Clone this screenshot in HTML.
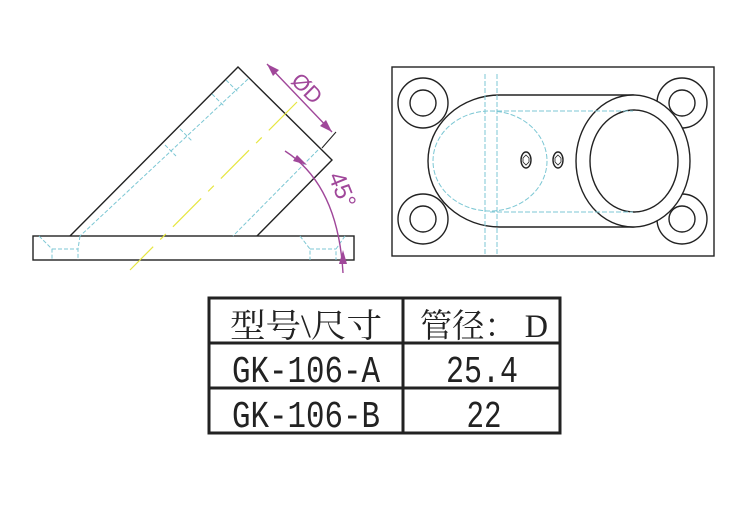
<!DOCTYPE html>
<html><head><meta charset="utf-8"><style>html,body{margin:0;padding:0;background:#fff}</style></head><body>
<svg width="750" height="500" viewBox="0 0 750 500" xmlns="http://www.w3.org/2000/svg">
<rect width="750" height="500" fill="#fff"/>
<!-- left view -->
<g fill="none" stroke="#222" stroke-width="1.4">
<rect x="33" y="236" width="321" height="24"/>
<polyline points="70,236 238,67 332,160 257,236"/>
</g>
<g fill="none" stroke="#7cc7d4" stroke-width="1" stroke-dasharray="4,2">
<line x1="248" y1="79" x2="80" y2="236"/>
<line x1="318" y1="150" x2="233" y2="236"/>
<polyline points="39,236 52,249 52,260"/><polyline points="80,236 78,249 78,260"/><line x1="52" y1="249" x2="78" y2="249"/>
<polyline points="300,236 310,249 310,260"/><polyline points="345,236 336,249 336,260"/><line x1="310" y1="249" x2="336" y2="249"/>
<line x1="226" y1="80" x2="238" y2="92"/><line x1="212" y1="94" x2="224" y2="106"/>
<line x1="180" y1="129" x2="192" y2="141"/><line x1="165" y1="145" x2="176" y2="156"/>
</g>
<line x1="297" y1="102" x2="130" y2="270" stroke="#e6e640" stroke-width="1.2" stroke-dasharray="40,10,8,10"/>
<g stroke="#a0479a" fill="#a0479a" stroke-width="1.4">
<line x1="267" y1="64" x2="332" y2="132"/>
<polygon points="267,64 279,70 273,76" stroke="none"/>
<polygon points="332,132 320,126 326,120" stroke="none"/>
<line x1="336" y1="132" x2="322" y2="148" stroke="#222" stroke-width="1"/>
<path d="M285,151 Q338,185 343,273" fill="none"/>
<polygon points="307,165 297,155 293,161" stroke="none"/>
<polygon points="343,250 339,264 347,264" stroke="none"/>
</g>
<text x="0" y="0" transform="translate(290,82) rotate(45)" font-family="Liberation Sans,sans-serif" font-size="22" fill="#a0479a">ØD</text>
<text x="0" y="0" transform="translate(328,176) rotate(68)" font-family="Liberation Sans,sans-serif" font-size="24" fill="#a0479a">45°</text>
<!-- right view -->
<g fill="none" stroke="#222" stroke-width="1.4">
<rect x="392" y="67" width="322" height="189"/>
<circle cx="423" cy="103" r="25"/><circle cx="423" cy="103" r="13"/>
<circle cx="682" cy="103" r="25"/><circle cx="682" cy="103" r="13"/>
<circle cx="423" cy="219" r="25"/><circle cx="423" cy="219" r="13"/>
<circle cx="682" cy="219" r="25"/><circle cx="682" cy="219" r="13"/>
<path d="M500,95 L633,95 L633,227 L500,227 A72,66 0 0 1 500,95 Z" fill="#fff"/>
<ellipse cx="633" cy="161" rx="57" ry="66" fill="#fff"/>
<ellipse cx="634" cy="161" rx="44" ry="51"/>
<ellipse cx="526" cy="160" rx="5" ry="8"/><ellipse cx="558" cy="160" rx="5" ry="8"/>
<polygon points="526,155 529,158 529,162 526,165 523,162 523,158" stroke-width="0.8"/>
<polygon points="558,155 561,158 561,162 558,165 555,162 555,158" stroke-width="0.8"/>
</g>
<g fill="none" stroke="#7cc7d4" stroke-width="1" stroke-dasharray="5,2">
<ellipse cx="490" cy="161" rx="57" ry="50"/>
<line x1="490" y1="111" x2="633" y2="111"/><line x1="490" y1="212" x2="633" y2="212"/>
<line x1="485" y1="74" x2="485" y2="256"/><line x1="497" y1="74" x2="497" y2="256"/>
</g>
<!-- table -->
<g fill="none" stroke="#222" stroke-width="3">
<rect x="209" y="298" width="351" height="135"/>
<line x1="403" y1="298" x2="403" y2="433"/>
<line x1="209" y1="343" x2="560" y2="343"/>
<line x1="209" y1="388" x2="560" y2="388"/>
</g>
<g font-family="Liberation Serif,'Noto Serif CJK SC',serif" font-size="33" fill="#222" text-anchor="middle">
<text x="306" y="337" textLength="152" lengthAdjust="spacingAndGlyphs">型号\尺寸</text>
<text x="484" y="337" textLength="128" lengthAdjust="spacingAndGlyphs">管径： D</text>
</g>
<g font-family="Liberation Mono,monospace" font-size="38" fill="#222" text-anchor="middle">
<text x="306" y="382" textLength="148" lengthAdjust="spacingAndGlyphs">GK-106-A</text>
<text x="482" y="382" textLength="72" lengthAdjust="spacingAndGlyphs">25.4</text>
<text x="306" y="427" textLength="148" lengthAdjust="spacingAndGlyphs">GK-106-B</text>
<text x="484" y="427" textLength="35" lengthAdjust="spacingAndGlyphs">22</text>
</g>
</svg>
</body></html>
